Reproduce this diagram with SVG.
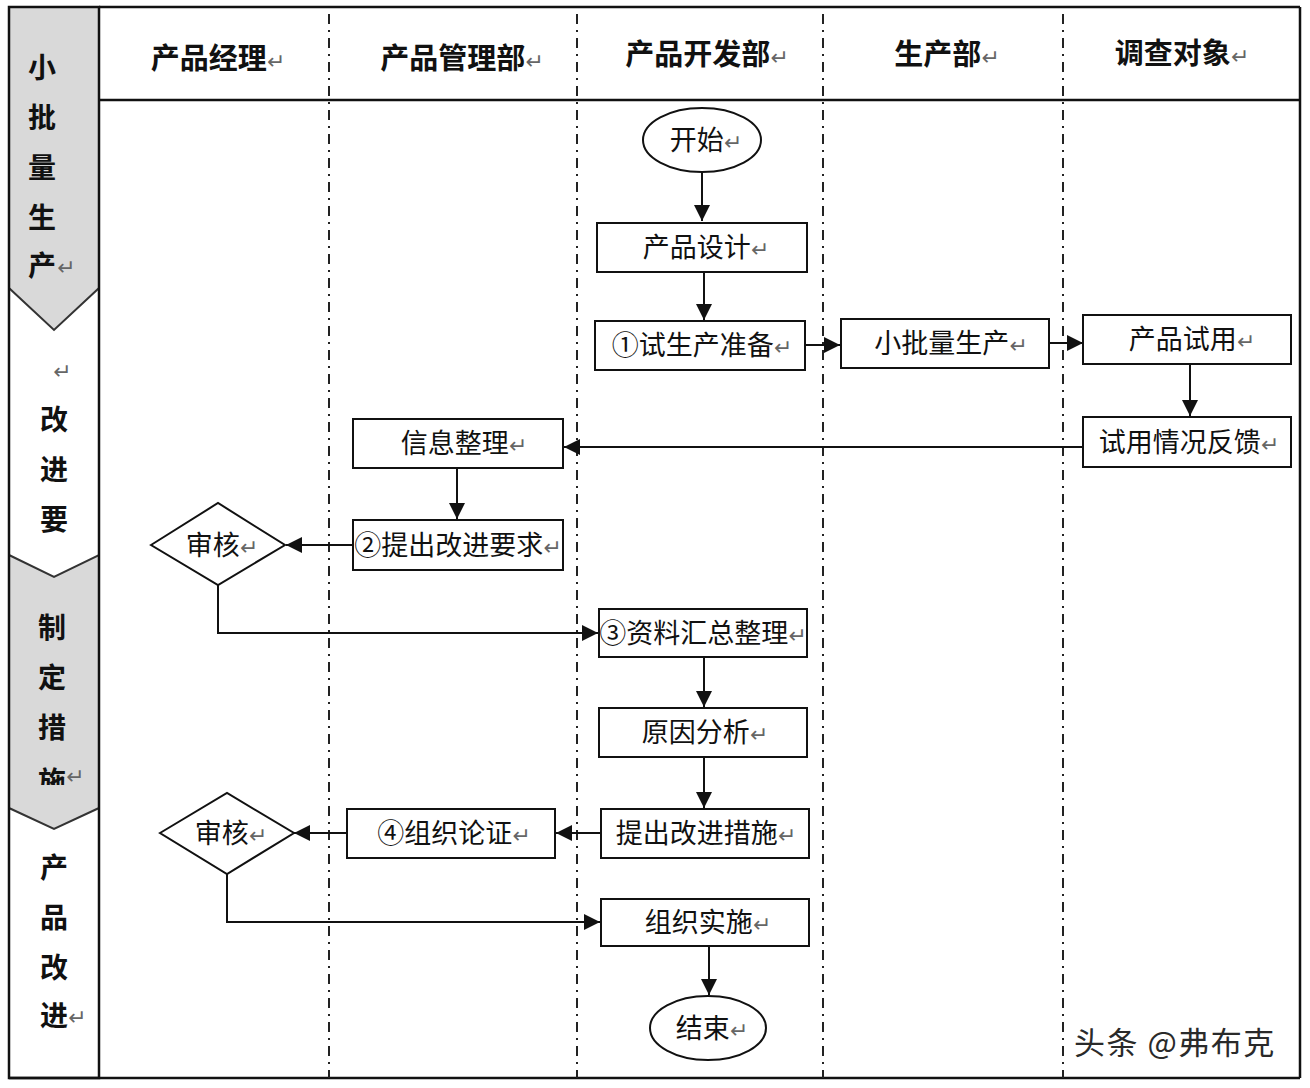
<svg xmlns="http://www.w3.org/2000/svg" width="1310" height="1088" viewBox="0 0 1310 1088">
<defs>
<style>
.frame{fill:none;stroke:#111;stroke-width:2.5}
.lane{fill:none;stroke:#222;stroke-width:2;stroke-dasharray:10 6 2 6}
.phase{fill:#d9d9d9;stroke:#333;stroke-width:2}
.ph{font-family:"Noto Sans CJK SC","Noto Sans",sans-serif;font-size:28px;font-weight:bold;fill:#111;text-anchor:middle}
.hd{font-family:"Noto Sans CJK SC","Noto Sans",sans-serif;font-size:29px;font-weight:bold;fill:#111;text-anchor:middle}
.box{fill:#fff;stroke:#111;stroke-width:2}
.t{font-family:"Noto Sans CJK SC","Noto Sans",sans-serif;font-size:27px;fill:#111;text-anchor:middle}
.rm{font-family:"DejaVu Sans",sans-serif;font-size:22px;fill:#666;font-weight:normal}
.edge{fill:none;stroke:#111;stroke-width:2}
.wm{font-family:"Noto Sans CJK SC","Noto Sans",sans-serif;font-size:31px;letter-spacing:1.5px;fill:#2a2a2a}
</style>
<marker id="ah" markerUnits="userSpaceOnUse" markerWidth="16" markerHeight="16" viewBox="0 0 16 16" refX="16" refY="8" orient="auto">
<path d="M0,0 L16,8 L0,16 Z" fill="#111"/>
</marker>
<clipPath id="clip3"><rect x="9" y="560" width="90" height="225"/></clipPath>
</defs>
<rect width="1310" height="1088" fill="#fff"/>

<g id="frame">
<polygon class="phase" points="9,7 99,7 99,288 54,330 9,288"/>
<polygon class="phase" points="9,555 54,577 99,555 99,808 54,829 9,808"/>
<rect class="frame" x="9" y="7" width="90" height="1071"/>
<line class="frame" x1="99" y1="7" x2="1300" y2="7"/>
<line class="frame" x1="1300" y1="7" x2="1300" y2="1078"/>
<line class="frame" x1="9" y1="1078" x2="1300" y2="1078"/>
<line class="frame" x1="99" y1="100" x2="1300" y2="100"/>
<line class="lane" x1="329" y1="14" x2="329" y2="1078"/>
<line class="lane" x1="577" y1="14" x2="577" y2="1078"/>
<line class="lane" x1="823" y1="14" x2="823" y2="1078"/>
<line class="lane" x1="1063" y1="14" x2="1063" y2="1078"/>
</g>

<g id="phases">
<text class="ph" x="42" y="78">小</text>
<text class="ph" x="42" y="128">批</text>
<text class="ph" x="42" y="178">量</text>
<text class="ph" x="42" y="228">生</text>
<text class="ph" x="42" y="276">产</text><text class="rm" x="57" y="275">↵</text>
<text class="rm" x="53" y="379">↵</text>
<text class="ph" x="54" y="430">改</text>
<text class="ph" x="54" y="480">进</text>
<text class="ph" x="54" y="530">要</text>
<text class="ph" x="52" y="638">制</text>
<text class="ph" x="52" y="688">定</text>
<text class="ph" x="52" y="738">措</text>
<g clip-path="url(#clip3)"><text class="ph" x="52" y="792">施</text></g>
<text class="rm" x="66" y="784">↵</text>
<text class="ph" x="54" y="878">产</text>
<text class="ph" x="54" y="928">品</text>
<text class="ph" x="54" y="978">改</text>
<text class="ph" x="54" y="1026">进</text><text class="rm" x="68" y="1025">↵</text>
</g>

<g id="headers">
<text class="hd" x="218" y="69">产品经理<tspan class="rm">↵</tspan></text>
<text class="hd" x="462" y="69">产品管理部<tspan class="rm">↵</tspan></text>
<text class="hd" x="707" y="65">产品开发部<tspan class="rm">↵</tspan></text>
<text class="hd" x="947" y="65">生产部<tspan class="rm">↵</tspan></text>
<text class="hd" x="1182" y="64">调查对象<tspan class="rm">↵</tspan></text>
</g>

<g id="connectors">
<line class="edge" x1="702" y1="172" x2="702" y2="221" marker-end="url(#ah)"/>
<line class="edge" x1="704" y1="272" x2="704" y2="320" marker-end="url(#ah)"/>
<line class="edge" x1="805" y1="345" x2="840" y2="345" marker-end="url(#ah)"/>
<line class="edge" x1="1049" y1="343" x2="1083" y2="343" marker-end="url(#ah)"/>
<line class="edge" x1="1190" y1="364" x2="1190" y2="416" marker-end="url(#ah)"/>
<line class="edge" x1="1083" y1="447" x2="564" y2="447" marker-end="url(#ah)"/>
<line class="edge" x1="457" y1="468" x2="457" y2="519" marker-end="url(#ah)"/>
<line class="edge" x1="353" y1="545" x2="286" y2="545" marker-end="url(#ah)"/>
<polyline class="edge" points="218,585 218,633 598,633" marker-end="url(#ah)"/>
<line class="edge" x1="704" y1="657" x2="704" y2="707" marker-end="url(#ah)"/>
<line class="edge" x1="704" y1="757" x2="704" y2="808" marker-end="url(#ah)"/>
<line class="edge" x1="601" y1="833" x2="556" y2="833" marker-end="url(#ah)"/>
<line class="edge" x1="347" y1="833" x2="294" y2="833" marker-end="url(#ah)"/>
<polyline class="edge" points="227,874 227,922 600,922" marker-end="url(#ah)"/>
<line class="edge" x1="709" y1="946" x2="709" y2="995" marker-end="url(#ah)"/>
</g>

<g id="n-start"><ellipse class="box" cx="702" cy="140" rx="59" ry="32"/><text class="t" x="706" y="150">开始<tspan class="rm">↵</tspan></text></g>
<g id="n-design"><rect class="box" x="597" y="223" width="210" height="49"/><text class="t" x="706" y="257">产品设计<tspan class="rm">↵</tspan></text></g>
<g id="n-prep"><rect class="box" x="595" y="321" width="210" height="49"/><text class="t" x="702" y="355">①试生产准备<tspan class="rm">↵</tspan></text></g>
<g id="n-small"><rect class="box" x="841" y="319" width="208" height="49"/><text class="t" x="951" y="353">小批量生产<tspan class="rm">↵</tspan></text></g>
<g id="n-trial"><rect class="box" x="1083" y="315" width="208" height="49"/><text class="t" x="1192" y="349">产品试用<tspan class="rm">↵</tspan></text></g>
<g id="n-feedback"><rect class="box" x="1083" y="417" width="208" height="50"/><text class="t" x="1189" y="452">试用情况反馈<tspan class="rm">↵</tspan></text></g>
<g id="n-info"><rect class="box" x="353" y="419" width="210" height="49"/><text class="t" x="464" y="453">信息整理<tspan class="rm">↵</tspan></text></g>
<g id="n-req"><rect class="box" x="353" y="520" width="210" height="50"/><text class="t" x="458" y="555">②提出改进要求<tspan class="rm">↵</tspan></text></g>
<g id="n-review1"><polygon class="box" points="151,545 218,503 285,545 218,585"/><text class="t" x="222" y="555">审核<tspan class="rm">↵</tspan></text></g>
<g id="n-collect"><rect class="box" x="599" y="609" width="208" height="48"/><text class="t" x="703" y="643">③资料汇总整理<tspan class="rm">↵</tspan></text></g>
<g id="n-cause"><rect class="box" x="599" y="708" width="208" height="49"/><text class="t" x="705" y="742">原因分析<tspan class="rm">↵</tspan></text></g>
<g id="n-measure"><rect class="box" x="601" y="809" width="208" height="49"/><text class="t" x="706" y="843">提出改进措施<tspan class="rm">↵</tspan></text></g>
<g id="n-demo"><rect class="box" x="347" y="809" width="208" height="49"/><text class="t" x="454" y="843">④组织论证<tspan class="rm">↵</tspan></text></g>
<g id="n-review2"><polygon class="box" points="160,833 227,793 294,833 227,874"/><text class="t" x="231" y="843">审核<tspan class="rm">↵</tspan></text></g>
<g id="n-impl"><rect class="box" x="601" y="899" width="208" height="47"/><text class="t" x="708" y="932">组织实施<tspan class="rm">↵</tspan></text></g>
<g id="n-end"><ellipse class="box" cx="708" cy="1028" rx="58" ry="32"/><text class="t" x="712" y="1038">结束<tspan class="rm">↵</tspan></text></g>

<text class="wm" x="1074" y="1054">头条 @弗布克</text>
</svg>
